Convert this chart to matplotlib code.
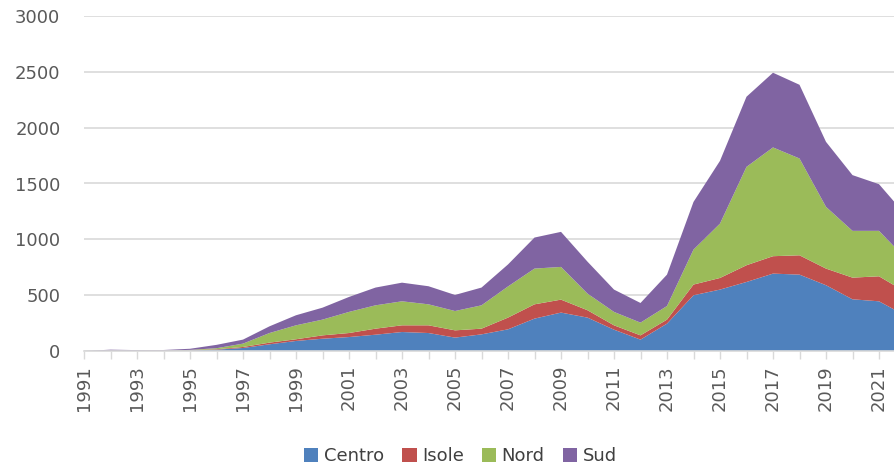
import numpy as np
import matplotlib.pyplot as plt
from matplotlib.ticker import MultipleLocator

years = np.arange(1991, 2023)
centro = [0, 2, 1, 2, 5, 12, 27, 60, 90, 110, 125, 146, 170, 161, 120, 149,
          194, 290, 344, 299, 191, 102, 245, 499, 550, 618, 693, 684, 589, 463, 445, 317]
isole = [0, 0, 0, 1, 2, 4, 9, 15, 15, 30, 36, 54, 60, 69, 65, 51,
         105, 128, 116, 66, 39, 38, 36, 96, 104, 150, 156, 173, 149, 194, 224, 212]
nord = [0, 1, 1, 1, 3, 9, 30, 86, 125, 141, 189, 209, 215, 188, 173, 209,
        279, 320, 293, 149, 120, 114, 122, 313, 487, 881, 974, 867, 553, 419, 407, 301]
sud = [0, 9, 6, 5, 10, 30, 36, 60, 90, 107, 134, 159, 167, 162, 144, 159,
       197, 278, 314, 286, 200, 176, 281, 427, 562, 628, 669, 660, 582, 499, 418, 390]

labels = ['Centro', 'Isole', 'Nord', 'Sud']
colors = ['#4F81BD', '#C0504D', '#9BBB59', '#8064A2']

fig = plt.figure(figsize=(8.94, 4.65), dpi=100)
ax = fig.add_axes([84/894, 1-351/465, 1-84/894, 335/465])

ax.stackplot(years, centro, isole, nord, sud, labels=labels, colors=colors, linewidth=0)

ax.set_xticks(np.arange(1991, 2023, 2))
ax.set_xticks(np.arange(1991, 2023, 1), minor=True)
# set limits after the ticks, set_xticks widens the view
ax.set_xlim(1991, 1991 + (894-84)/26.5)
ax.set_ylim(0, 3000)
ax.yaxis.set_major_locator(MultipleLocator(500))
ax.grid(axis='y', color='#d9d9d9', linewidth=1.2)
ax.set_axisbelow(True)

ax.tick_params(axis='x', which='both', length=6, color='#d9d9d9', width=1,
               labelrotation=90, labelsize=13, labelcolor='#595959', pad=4)
ax.tick_params(axis='y', length=0, labelsize=13, labelcolor='#595959', pad=17)

for s in ['top', 'right', 'left']:
    ax.spines[s].set_visible(False)
ax.spines['bottom'].set_color('#d9d9d9')
ax.spines['bottom'].set_linewidth(1.2)

fig.legend(loc='lower center', bbox_to_anchor=(0.515, -0.035), ncol=4, frameon=False,
           fontsize=13, labelcolor='#404040', handlelength=0.8, handleheight=0.8,
           handletextpad=0.3, columnspacing=1.0)

fig.savefig('out.png', dpi=100)
